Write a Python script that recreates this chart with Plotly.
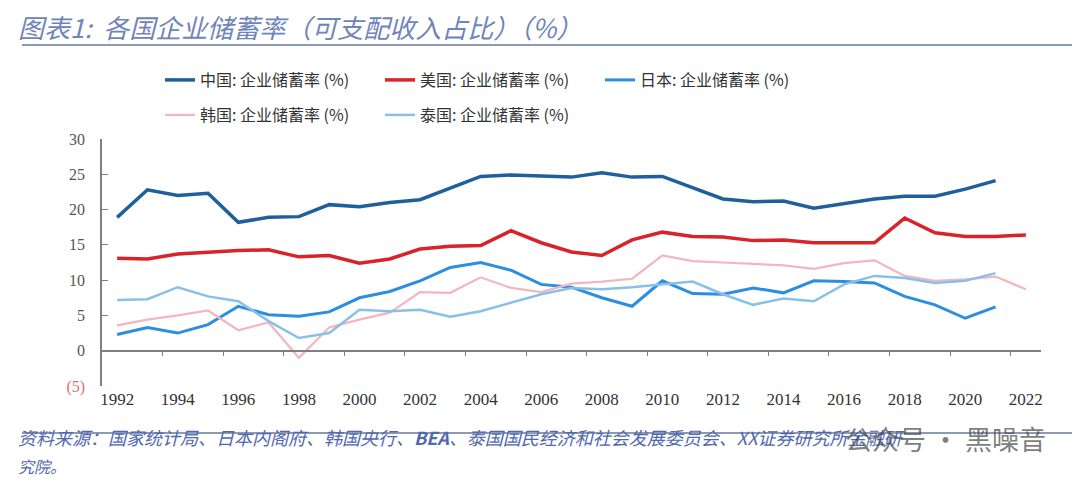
import plotly.graph_objects as go

# ---------------- data ----------------
years = list(range(1992, 2023))
label_years = list(range(1992, 2023, 2))
label_text = [str(y) for y in label_years]
tick_bounds = [y + 1.5 for y in range(1992, 2021, 2)]  # between-category tick marks

china = [18.9, 22.8, 22.0, 22.3, 18.2, 18.9, 19.0, 20.7, 20.4, 21.0, 21.4, 23.1, 24.7, 24.9, 24.8,
         24.6, 25.2, 24.6, 24.7, 23.1, 21.5, 21.1, 21.2, 20.2, 20.9, 21.5, 21.9, 21.9, 22.9, 24.1, None]
usa = [13.1, 13.0, 13.7, 14.0, 14.2, 14.3, 13.3, 13.5, 12.4, 13.0, 14.4, 14.8, 14.9, 17.0, 15.3,
       14.0, 13.5, 15.7, 16.8, 16.2, 16.1, 15.6, 15.7, 15.3, 15.3, 15.3, 18.8, 16.7, 16.2, 16.2, 16.4]
japan = [2.3, 3.3, 2.5, 3.7, 6.3, 5.1, 4.9, 5.5, 7.5, 8.4, 9.9, 11.8, 12.5, 11.4, 9.4,
         9.0, 7.5, 6.3, 9.9, 8.1, 8.0, 8.9, 8.2, 9.9, 9.8, 9.6, 7.7, 6.5, 4.6, 6.2, None]
korea = [3.6, 4.4, 5.0, 5.7, 2.9, 4.0, -1.0, 3.3, 4.4, 5.4, 8.3, 8.2, 10.4, 8.9, 8.3,
         9.5, 9.8, 10.2, 13.5, 12.7, 12.5, 12.3, 12.1, 11.6, 12.4, 12.8, 10.6, 9.9, 10.1, 10.5, 8.7]
thailand = [7.2, 7.3, 9.0, 7.7, 7.0, 4.2, 1.8, 2.5, 5.8, 5.6, 5.8, 4.8, 5.6, 6.8, 8.0,
            8.9, 8.7, 9.0, 9.4, 9.8, 8.0, 6.5, 7.4, 7.0, 9.4, 10.6, 10.3, 9.6, 9.9, 11.0, None]

y_vals = [-5, 0, 5, 10, 15, 20, 25, 30]
y_text = ['<span style="color:#e07070">(5)</span>', '0', '5', '10', '15', '20', '25', '30']

# ---------------- figure ----------------
W, H = 1080, 479
L, R, T, B = 94, 47, 131, 101
pw, ph = W - L - R, H - T - B


def px(xp):
    return (xp - L) / pw


def py(yp):
    return (H - B - yp) / ph


fig = go.Figure()

series = [
    ("中国: 企业储蓄率 (%)", china, "#1f5f9c", 3.5, "legend"),
    ("美国: 企业储蓄率 (%)", usa, "#d8232a", 3.5, "legend"),
    ("日本: 企业储蓄率 (%)", japan, "#2b8ee0", 3.0, "legend"),
    ("韩国: 企业储蓄率 (%)", korea, "#f4b5be", 2.2, "legend2"),
    ("泰国: 企业储蓄率 (%)", thailand, "#88c0ea", 2.5, "legend2"),
]
for name, vals, color, width, lg in series:
    fig.add_trace(go.Scatter(x=years, y=vals, mode="lines", name=name,
                             line=dict(color=color, width=width), legend=lg,
                             connectgaps=False))

# dummy trace so the secondary axis (category-boundary ticks at y=0) is drawn
fig.add_trace(go.Scatter(x=[], y=[], xaxis="x2", showlegend=False, hoverinfo="skip"))

axis_col = "#7f7f7f"
serif = "Liberation Serif"
cjk = "Noto Sans CJK SC"

fig.update_layout(
    width=W, height=H,
    margin=dict(l=L, r=R, t=T, b=B),
    paper_bgcolor="white", plot_bgcolor="white",
    xaxis=dict(range=[1991.5, 2022.5], tickvals=label_years, ticktext=label_text,
               showline=False, ticks="", showgrid=False, zeroline=False,
               tickfont=dict(family=serif, size=17, color="#333333"),
               ticklabelstandoff=1),
    xaxis2=dict(range=[1991.5, 2022.5], overlaying="x", anchor="free",
                position=5 / 35, side="bottom",
                showline=True, linecolor=axis_col, linewidth=1.5,
                ticks="outside", ticklen=5, tickwidth=1.3, tickcolor=axis_col,
                tickvals=tick_bounds, showticklabels=False,
                showgrid=False, zeroline=False),
    yaxis=dict(range=[-5, 30], tickvals=y_vals, ticktext=y_text,
               showline=True, linecolor=axis_col, linewidth=1.5,
               ticks="inside", ticklen=6, tickwidth=1.3, tickcolor=axis_col,
               showgrid=False, zeroline=True, zerolinecolor=axis_col, zerolinewidth=1.5,
               tickfont=dict(family=serif, size=16, color="#555555"),
               ticklabelstandoff=12),
    legend=dict(orientation="h", x=px(152), y=py(55), xanchor="left", yanchor="top",
                font=dict(family=cjk, size=16, color="#333333"),
                entrywidth=175, entrywidthmode="pixels", bgcolor="rgba(0,0,0,0)"),
    legend2=dict(orientation="h", x=px(152), y=py(90), xanchor="left", yanchor="top",
                 font=dict(family=cjk, size=16, color="#333333"),
                 entrywidth=175, entrywidthmode="pixels", bgcolor="rgba(0,0,0,0)"),
    showlegend=True,
)

# title
fig.add_annotation(xref="paper", yref="paper", x=px(8), y=py(19),
                   xanchor="left", yanchor="middle", showarrow=False,
                   text="<i>图表1:  各国企业储蓄率（可支配收入占比）（%）</i>",
                   font=dict(family=cjk, size=26, color="#6f84ba"))
# separator lines
fig.add_shape(type="line", xref="paper", yref="paper", x0=px(14), x1=px(1072),
              y0=py(37), y1=py(37), line=dict(color="#8d9ab4", width=2))
fig.add_shape(type="line", xref="paper", yref="paper", x0=px(14), x1=px(1072),
              y0=py(425), y1=py(425), line=dict(color="#8d9ab4", width=2))
# source
fig.add_annotation(xref="paper", yref="paper", x=px(8), y=py(429),
                   xanchor="left", yanchor="middle", showarrow=False,
                   text="<i>资料来源：国家统计局、日本内阁府、韩国央行、<b>BEA</b>、泰国国民经济和社会发展委员会、XX证券研究所金融研</i>",
                   font=dict(family=cjk, size=18, color="#5068b0"))
fig.add_annotation(xref="paper", yref="paper", x=px(8), y=py(458),
                   xanchor="left", yanchor="middle", showarrow=False,
                   text="<i>究院。</i>",
                   font=dict(family=cjk, size=16, color="#5068b0"))
# watermark
fig.add_annotation(xref="paper", yref="paper", x=px(835), y=py(430),
                   xanchor="left", yanchor="middle", showarrow=False,
                   text="公众号 · 黑噪音",
                   font=dict(family=cjk, size=27, color="rgba(70,70,70,0.7)"))

fig.write_html("out.html")
